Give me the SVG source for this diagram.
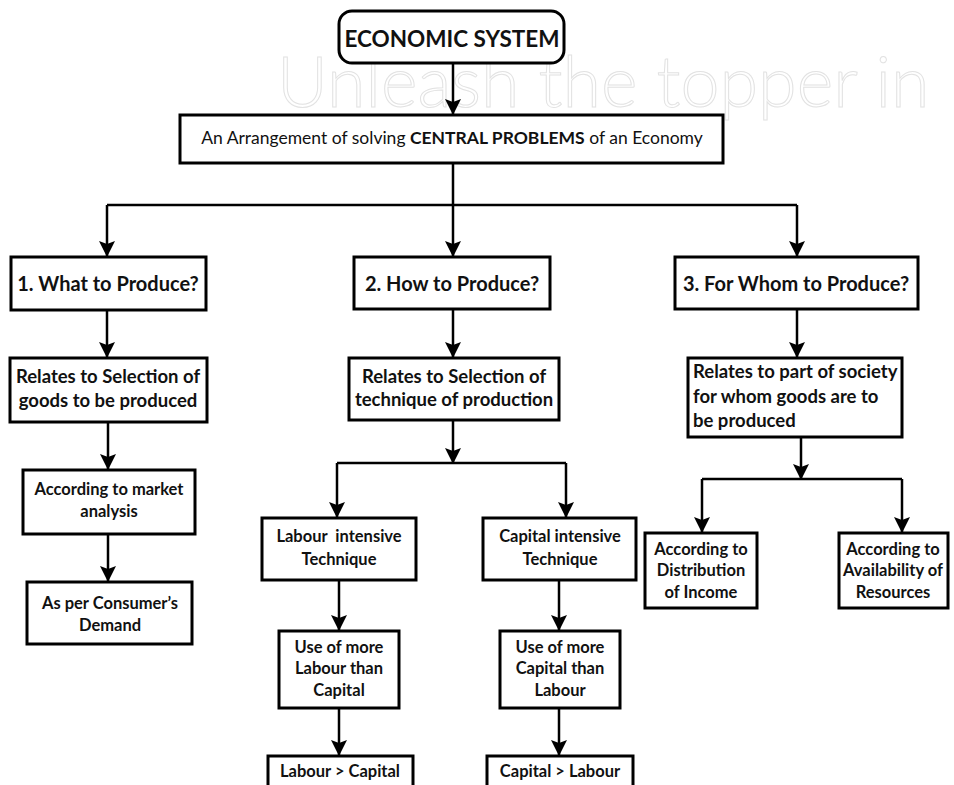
<svg xmlns="http://www.w3.org/2000/svg" width="954" height="785" viewBox="0 0 954 785">
<defs>
<marker id="arr" viewBox="0 0 16 16" refX="16" refY="8" markerWidth="16" markerHeight="16" markerUnits="userSpaceOnUse" orient="auto">
<path d="M0,0 L16,8 L0,16 L3,8 z" fill="#000"/>
</marker>
<style>
.box{fill:#fff;stroke:#000;stroke-width:3}
.t{font-family:Lato,"Liberation Sans",sans-serif;font-weight:bold;fill:#111;text-anchor:middle}
.r{font-weight:normal}
.b{font-weight:bold}
.l{text-anchor:start}
.h{font-size:20px}
.m{font-size:18.5px}
.s{font-size:16.5px}
.c{fill:none;stroke:#000;stroke-width:2.5}
.a{marker-end:url(#arr)}
.wm{font-family:Lato,"Liberation Sans",sans-serif;font-weight:300;font-size:70px;fill:none;stroke:#e2e2e2;stroke-width:1}
</style>
</defs>
<rect width="954" height="785" fill="#fff"/>
<text class="wm" x="277" y="107">Unleash the topper in</text>

<g id="connectors">
<path class="c a" d="M453,63 V115"/>
<path class="c" d="M453,163 V205 M107,205 H797"/>
<path class="c a" d="M107,205 V257"/>
<path class="c a" d="M453,205 V257"/>
<path class="c a" d="M797,205 V257"/>
<path class="c a" d="M107,310 V358"/>
<path class="c a" d="M453,309 V358"/>
<path class="c a" d="M797,309 V358"/>
<path class="c a" d="M108,422 V470"/>
<path class="c a" d="M108,534 V582"/>
<path class="c a" d="M453,420 V464"/>
<path class="c" d="M337,463 H566"/>
<path class="c a" d="M337,463 V518"/>
<path class="c a" d="M566,463 V518"/>
<path class="c a" d="M339,580 V631"/>
<path class="c a" d="M559,580 V631"/>
<path class="c a" d="M339,708 V756"/>
<path class="c a" d="M559,708 V756"/>
<path class="c a" d="M801,437 V480"/>
<path class="c" d="M702,479 H902"/>
<path class="c a" d="M702,479 V533"/>
<path class="c a" d="M902,479 V533"/>
</g>

<g id="economic-system">
<rect class="box" x="339" y="11" width="225" height="52" rx="13" stroke-width="2.5"/>
<text class="t" x="452" y="47" font-size="22.5">ECONOMIC SYSTEM</text>
</g>
<g id="central">
<rect class="box" x="180" y="115" width="543" height="48"/>
<text class="t r" x="452" y="144" font-size="17.5">An Arrangement of solving <tspan class="b">CENTRAL PROBLEMS</tspan> of an Economy</text>
</g>
<g id="what">
<rect class="box" x="11" y="257" width="195" height="53"/>
<text class="t h" x="108" y="291">1. What to Produce?</text>
</g>
<g id="how">
<rect class="box" x="354" y="257" width="196" height="52"/>
<text class="t h" x="452" y="291">2. How to Produce?</text>
</g>
<g id="whom">
<rect class="box" x="675" y="257" width="243" height="52"/>
<text class="t h" x="796" y="291">3. For Whom to Produce?</text>
</g>
<g id="sel-goods">
<rect class="box" x="10" y="358" width="197" height="64"/>
<text class="t m" x="108" y="383">Relates to Selection of</text>
<text class="t m" x="108" y="407">goods to be produced</text>
</g>
<g id="sel-tech">
<rect class="box" x="349" y="358" width="210" height="62"/>
<text class="t m" x="454" y="383">Relates to Selection of</text>
<text class="t m" x="454" y="406">technique of production</text>
</g>
<g id="part-society">
<rect class="box" x="688" y="358" width="214" height="79"/>
<text class="t m l" x="693" y="378">Relates to part of society</text>
<text class="t m l" x="693" y="403">for whom goods are to</text>
<text class="t m l" x="693" y="427">be produced</text>
</g>
<g id="market">
<rect class="box" x="23" y="470" width="172" height="64"/>
<text class="t s" x="109" y="495">According to market</text>
<text class="t s" x="109" y="517">analysis</text>
</g>
<g id="demand">
<rect class="box" x="27" y="582" width="165" height="62"/>
<text class="t s" x="110" y="609">As per Consumer’s</text>
<text class="t s" x="110" y="631">Demand</text>
</g>
<g id="labour-int">
<rect class="box" x="262" y="518" width="154" height="62"/>
<text class="t s" x="339" y="542" xml:space="preserve">Labour  intensive</text>
<text class="t s" x="339" y="565">Technique</text>
</g>
<g id="capital-int">
<rect class="box" x="483" y="518" width="153" height="62"/>
<text class="t s" x="560" y="542">Capital intensive</text>
<text class="t s" x="560" y="565">Technique</text>
</g>
<g id="more-labour">
<rect class="box" x="279" y="631" width="120" height="77"/>
<text class="t s" x="339" y="653">Use of more</text>
<text class="t s" x="339" y="674">Labour than</text>
<text class="t s" x="339" y="696">Capital</text>
</g>
<g id="more-capital">
<rect class="box" x="500" y="631" width="120" height="77"/>
<text class="t s" x="560" y="653">Use of more</text>
<text class="t s" x="560" y="674">Capital than</text>
<text class="t s" x="560" y="696">Labour</text>
</g>
<g id="labour-gt">
<rect class="box" x="268" y="756" width="145" height="40"/>
<text class="t s" x="340" y="777">Labour &gt; Capital</text>
</g>
<g id="capital-gt">
<rect class="box" x="487" y="756" width="146" height="40"/>
<text class="t s" x="560" y="777">Capital &gt; Labour</text>
</g>
<g id="distribution">
<rect class="box" x="645" y="533" width="112" height="75"/>
<text class="t s" x="701" y="555">According to</text>
<text class="t s" x="701" y="576">Distribution</text>
<text class="t s" x="701" y="598">of Income</text>
</g>
<g id="availability">
<rect class="box" x="839" y="533" width="109" height="75"/>
<text class="t s" x="893" y="555">According to</text>
<text class="t s" x="893" y="576">Availability of</text>
<text class="t s" x="893" y="598">Resources</text>
</g>
</svg>
